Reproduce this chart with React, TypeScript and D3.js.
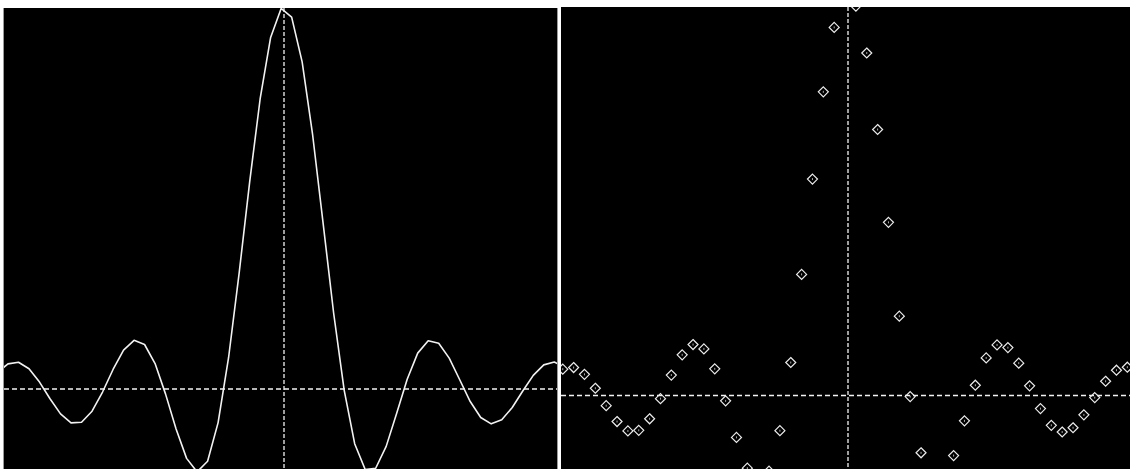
import React from "react";
import * as d3 from "d3";

// Sample positions (x) and values
const sampleX: number[] = [
  -15, -14.45, -13.9, -13.35, -12.8, -12.25, -11.7, -11.15, -10.6, -10.05,
  -9.5, -8.95, -8.4, -7.85, -7.3, -6.75, -6.2, -5.65, -5.1, -4.55,
  -4.0, -3.45, -2.9, -2.35, -1.8, -1.25, -0.7, -0.15, 0.4, 0.95,
  1.5, 2.05, 2.6, 3.15, 3.7, 4.25, 4.8, 5.35, 5.9, 6.45,
  7.0, 7.55, 8.1, 8.65, 9.2, 9.75, 10.3, 10.85, 11.4, 11.95,
  12.5, 13.05, 13.6, 14.15, 14.7,
];
const sampleY: number[] = [
  0.0434, 0.0658, 0.0699, 0.0529, 0.0181, -0.0254, -0.0651, -0.0886, -0.087, -0.0582,
  -0.0079, 0.0511, 0.1017, 0.1274, 0.1165, 0.0667, -0.0134, -0.1047, -0.1816, -0.2169,
  -0.1892, -0.088, 0.0825, 0.3028, 0.541, 0.7592, 0.9203, 0.9963, 0.9735, 0.8562,
  0.665, 0.4329, 0.1983, -0.0027, -0.1432, -0.2106, -0.2075, -0.1502, -0.0634, 0.0257,
  0.0939, 0.1264, 0.1197, 0.0809, 0.0242, -0.0328, -0.0745, -0.0912, -0.0806, -0.0484,
  -0.0053, 0.0356, 0.0632, 0.0707, 0.0575,
];

const W = 1130;
const H = 469;
const left = { x0: 4, x1: 557, y0: 8, y1: H };
const right = { x0: 561, x1: W, y0: 7, y1: H };

export default function App() {
  const pts = sampleX.map((x, i) => ({ x, y: sampleY[i] }));

  const xL = d3.scaleLinear().domain([-15, 15]).range([-2.5, 570.5]);
  const yL = d3.scaleLinear().domain([0, 1]).range([389, 7]);
  const xR = d3.scaleLinear().domain([-15, 15]).range([551.9, 1144.1]);
  const yR = d3.scaleLinear().domain([0, 1]).range([395.5, -4.5]);

  const line = d3
    .line<{ x: number; y: number }>()
    .x((d) => xL(d.x))
    .y((d) => yL(d.y));

  const diamond = (cx: number, cy: number, r: number) =>
    `M${cx},${cy - r}L${cx + r},${cy}L${cx},${cy + r}L${cx - r},${cy}Z`;

  const stroke = "#f2f2f2";

  return (
    <div style={{ position: "fixed", left: 0, top: 0, width: W, height: H }}>
      <svg width={W} height={H} style={{ display: "block", background: "#ffffff" }}>
        <defs>
          <clipPath id="clipL">
            <rect x={left.x0} y={left.y0} width={left.x1 - left.x0} height={left.y1 - left.y0} />
          </clipPath>
          <clipPath id="clipR">
            <rect x={right.x0} y={right.y0} width={right.x1 - right.x0} height={right.y1 - right.y0} />
          </clipPath>
        </defs>
        {/* left panel */}
        <rect x={left.x0 - 1} y={left.y0} width={left.x1 - left.x0 + 2} height={left.y1 - left.y0} fill="#9a9a9a" />
        <rect x={left.x0} y={left.y0} width={left.x1 - left.x0} height={left.y1 - left.y0} fill="#000000" />
        <g clipPath="url(#clipL)">
          <line x1={left.x0} x2={left.x1} y1={yL(0)} y2={yL(0)} stroke={stroke} strokeWidth={1.3} strokeDasharray="5,3" />
          <line x1={xL(0)} x2={xL(0)} y1={left.y0} y2={left.y1} stroke={stroke} strokeWidth={1.3} strokeDasharray="4,2" />
          <path d={line(pts) || ""} fill="none" stroke={stroke} strokeWidth={1.6} strokeLinejoin="round" />
        </g>
        {/* right panel */}
        <rect x={right.x0} y={right.y0} width={right.x1 - right.x0} height={right.y1 - right.y0} fill="#000000" />
        <g clipPath="url(#clipR)">
          <line x1={right.x0} x2={right.x1} y1={yR(0)} y2={yR(0)} stroke={stroke} strokeWidth={1.3} strokeDasharray="5,3" />
          <line x1={xR(0)} x2={xR(0)} y1={right.y0} y2={right.y1} stroke={stroke} strokeWidth={1.3} strokeDasharray="4,2" />
          {pts.map((d, i) => (
            <g key={i}>
              <path d={diamond(xR(d.x), yR(d.y), 5)} fill="none" stroke="#ececec" strokeWidth={1.2} />
              <rect x={xR(d.x) - 0.5} y={yR(d.y) - 1} width={1} height={2} fill="#aaaaaa" />
            </g>
          ))}
        </g>
      </svg>
    </div>
  );
}
